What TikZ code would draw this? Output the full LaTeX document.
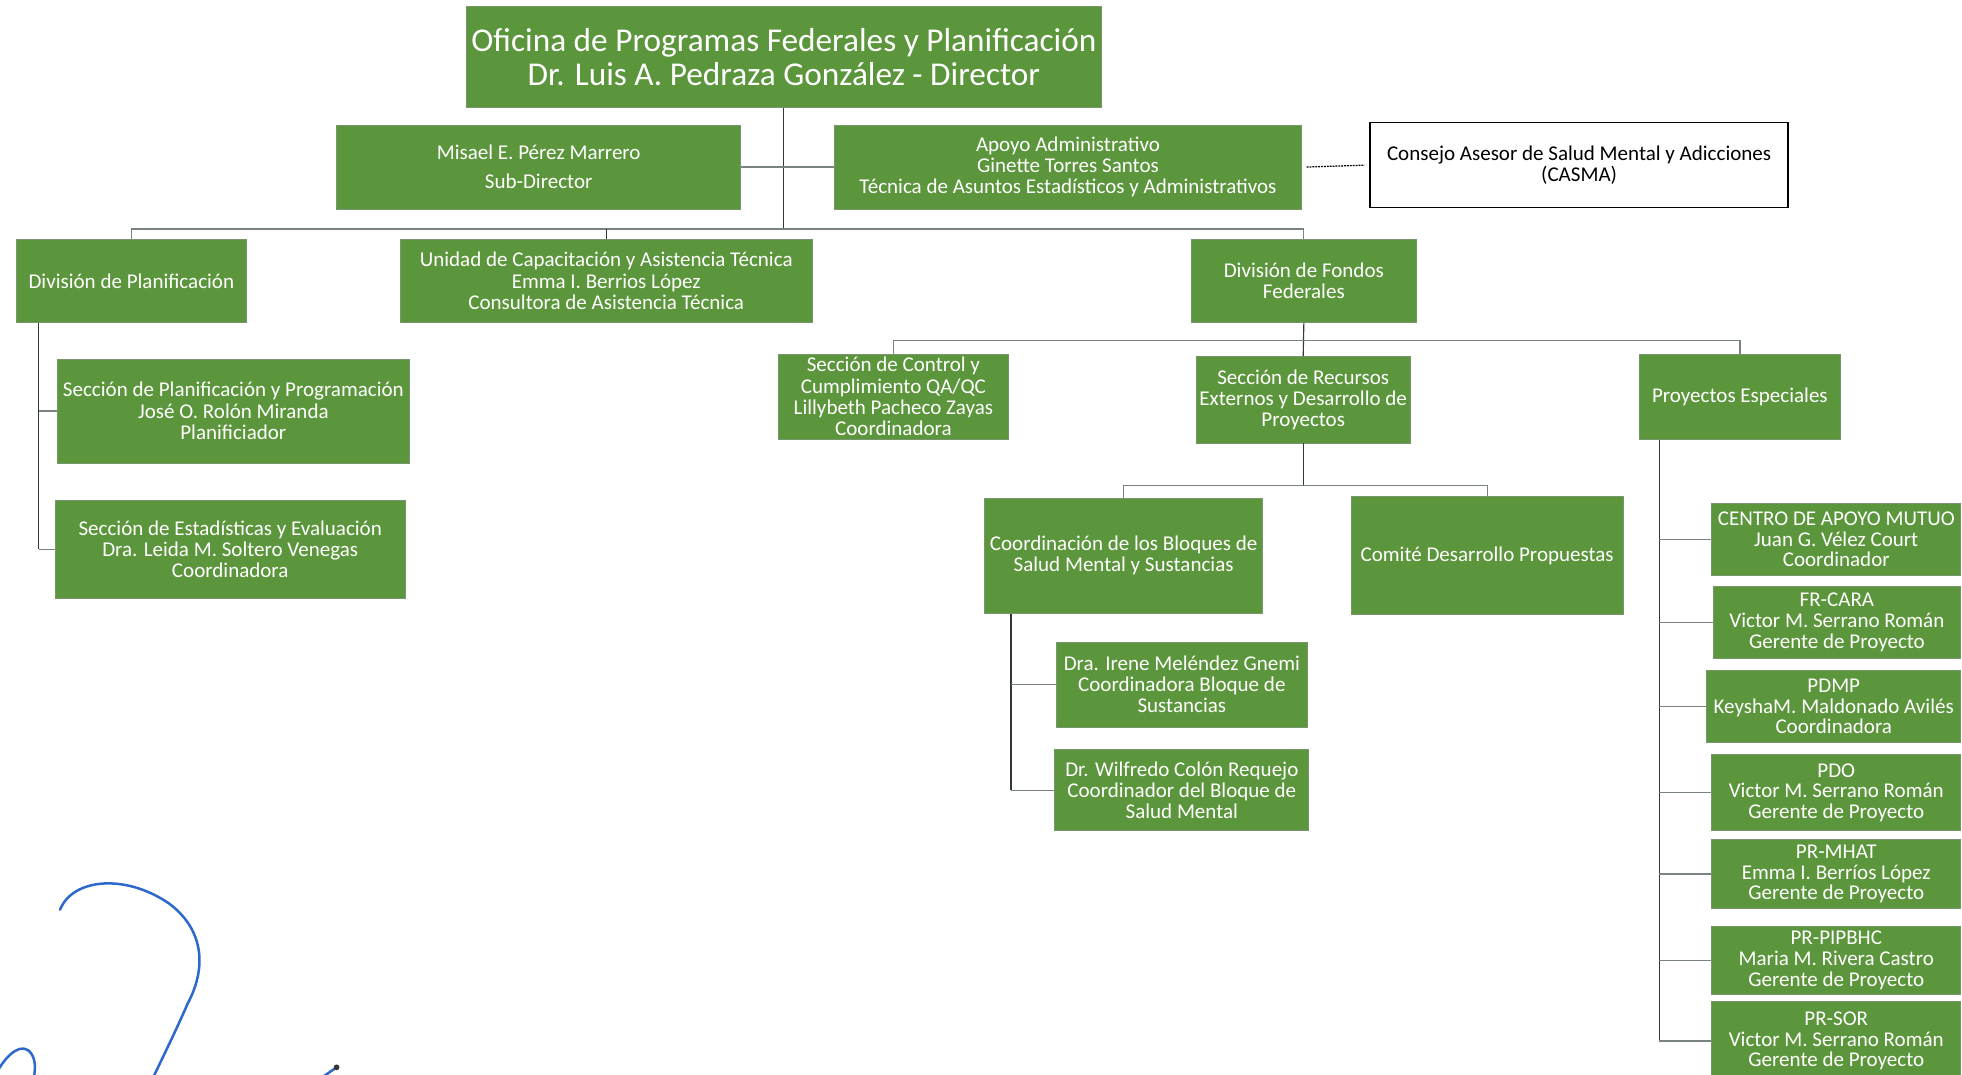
\documentclass[tikz,border=0pt]{standalone}
\usepackage{fontspec}
\setmainfont{Carlito}
\definecolor{boxgreen}{RGB}{92,150,60}
\definecolor{boxedge}{RGB}{120,150,110}
\definecolor{spine}{RGB}{50,55,55}
\definecolor{branch}{RGB}{120,130,130}
\definecolor{inkblue}{RGB}{45,105,205}
\begin{document}
\begin{tikzpicture}[x=1pt,y=-1pt,
  gbox/.style={fill=boxgreen, draw=boxedge, line width=0.6pt, text=white,
    align=center, inner sep=0pt, font=\fontsize{16.8}{17}\selectfont},
  pbox/.style={gbox, font=\fontsize{16.8}{16.6}\selectfont},
  wbox/.style={fill=white, draw=black, line width=1.1pt, text=black,
    align=center, inner sep=0pt, font=\fontsize{16.8}{17}\selectfont},
  wire/.style={draw=spine, line width=0.9pt},
  stub/.style={draw=branch, line width=1pt},
  ink/.style={draw=inkblue, line width=2pt, line cap=round},
]
\useasboundingbox (0,0) rectangle (1568,859);
\clip (0,0) rectangle (1568,859);
\fill[white] (0,0) rectangle (1568,859);

% --- top level ---
\node[gbox, minimum width=507pt, minimum height=81pt, font=\fontsize{26.6}{27}\selectfont] (top) at (626.5,45.5)
  {Oficina de Programas Federales y Planificación\\Dr. Luis A. Pedraza González - Director};
\node[gbox, minimum width=323pt, minimum height=67pt] (sub) at (430.5,133.5)
  {Misael E. Pérez Marrero\\[6pt]Sub-Director};
\node[gbox, minimum width=373pt, minimum height=67pt] (apoyo) at (853.5,133.5)
  {Apoyo Administrativo\\Ginette Torres Santos\\Técnica de Asuntos Estadísticos y Administrativos};
\node[wbox, minimum width=334pt, minimum height=68pt] (casma) at (1262,132)
  {Consejo Asesor de Salud Mental y Adicciones\\(CASMA)};

% --- divisions ---
\node[gbox, minimum width=184pt, minimum height=67pt] (divplan) at (105,224.5)
  {División de Planificación};
\node[gbox, minimum width=329pt, minimum height=67pt] (unidad) at (484.5,224.5)
  {Unidad de Capacitación y Asistencia Técnica\\Emma I. Berrios López\\Consultora de Asistencia Técnica};
\node[gbox, minimum width=180pt, minimum height=67pt] (fondos) at (1042,224.5)
  {División de Fondos\\Federales};

% --- planning sections ---
\node[gbox, minimum width=281pt, minimum height=83pt] (secplan) at (186.5,328.5)
  {Sección de Planificación y Programación\\José O. Rolón Miranda\\Planificiador};
\node[gbox, minimum width=280pt, minimum height=78pt] (secest) at (184,439)
  {Sección de Estadísticas y Evaluación\\Dra. Leida M. Soltero Venegas\\Coordinadora};

% --- federal funds sections ---
\node[gbox, minimum width=184pt, minimum height=68pt] (control) at (714,317)
  {Sección de Control y\\Cumplimiento QA/QC\\Lillybeth Pacheco Zayas\\Coordinadora};
\node[gbox, minimum width=171pt, minimum height=69pt] (recursos) at (1041.5,319.5)
  {Sección de Recursos\\Externos y Desarrollo de\\Proyectos};
\node[gbox, minimum width=161pt, minimum height=68pt] (especiales) at (1390.5,317)
  {Proyectos Especiales};

\node[gbox, minimum width=222pt, minimum height=92pt] (coordb) at (898,444)
  {Coordinación de los Bloques de\\Salud Mental y Sustancias};
\node[gbox, minimum width=217pt, minimum height=94pt] (comite) at (1188.5,444)
  {Comité Desarrollo Propuestas};
\node[gbox, minimum width=201pt, minimum height=68pt] (irene) at (944.5,547)
  {Dra. Irene Meléndez Gnemi\\Coordinadora Bloque de\\Sustancias};
\node[gbox, minimum width=203pt, minimum height=65pt] (wilfredo) at (944.5,631.5)
  {Dr. Wilfredo Colón Requejo\\Coordinador del Bloque de\\Salud Mental};

% --- special projects ---
\node[pbox, minimum width=199pt, minimum height=58pt] (centro) at (1467.5,431)
  {CENTRO DE APOYO MUTUO\\Juan G. Vélez Court\\Coordinador};
\node[pbox, minimum width=198pt, minimum height=57pt] (frcara) at (1468,497.5)
  {FR-CARA\\Victor M. Serrano Román\\Gerente de Proyecto};
\node[pbox, minimum width=203pt, minimum height=57pt] (pdmp) at (1465.5,564.5)
  {PDMP\\KeyshaM. Maldonado Avilés\\Coordinadora};
\node[pbox, minimum width=199pt, minimum height=61pt] (pdo) at (1467.5,633.5)
  {PDO\\Victor M. Serrano Román\\Gerente de Proyecto};
\node[pbox, minimum width=199pt, minimum height=55pt] (mhat) at (1467.5,698.5)
  {PR-MHAT\\Emma I. Berríos López\\Gerente de Proyecto};
\node[pbox, minimum width=199pt, minimum height=55pt] (pipbhc) at (1467.5,767.5)
  {PR-PIPBHC\\Maria M. Rivera Castro\\Gerente de Proyecto};
\node[pbox, minimum width=199pt, minimum height=64pt] (sor) at (1467.5,832)
  {PR-SOR\\Victor M. Serrano Román\\Gerente de Proyecto};

% --- connectors ---
\coordinate (busA) at (0,183);
\coordinate (busB) at (0,272);
\coordinate (busC) at (0,388);
\coordinate (spA) at (31,0);
\coordinate (spB) at (808,0);
\coordinate (spC) at (1326,0);

\draw[wire] (top.south) -- (top.south |- busA);
\draw[stub] (sub.east) -- (apoyo.west);
\draw[draw=black, line width=1pt, dash pattern=on 1.5pt off 0.8pt] (apoyo.east) ++(4,0) -- ([xshift=-4pt]casma.west);
\draw[stub] (divplan.north) -- (divplan.north |- busA) -- (fondos.north |- busA) -- (fondos.north);
\draw[wire] (unidad.north) -- (unidad.north |- busA);

\draw[wire] (spA |- divplan.south) -- (spA |- secest.west);
\draw[stub] (spA |- secplan.west) -- (secplan.west);
\draw[stub] (spA |- secest.west) -- (secest.west);

\draw[wire] (fondos.south) -- (recursos.north);
\draw[stub] (control.north) -- (control.north |- busB) -- (especiales.north |- busB) -- (especiales.north);

\draw[wire] (recursos.south) -- (recursos.south |- busC);
\draw[stub] (coordb.north) -- (coordb.north |- busC) -- (comite.north |- busC) -- (comite.north);

\draw[wire] (spB |- coordb.south) -- (spB |- wilfredo.west);
\draw[stub] (spB |- irene.west) -- (irene.west);
\draw[stub] (spB |- wilfredo.west) -- (wilfredo.west);

\draw[wire] (spC |- especiales.south) -- (spC |- sor.west);
\foreach \b in {centro,frcara,pdmp,pdo,mhat,pipbhc,sor}
  \draw[stub] (spC |- \b.west) -- (\b.west);

% --- handwritten signature strokes ---
\draw[ink] (48,727) .. controls (58,702) and (100,698) .. (135,722)
  .. controls (162,742) and (166,772) .. (150,802)
  .. controls (140,825) and (130,845) .. (122,862);
\draw[ink] (-2,856) .. controls (6,842) and (18,832) .. (25,842)
  .. controls (29,848) and (28,855) .. (27,862);
\draw[ink] (269,853) -- (256,862);
\fill[spine] (269,853) circle (2.3pt);
\end{tikzpicture}
\end{document}
